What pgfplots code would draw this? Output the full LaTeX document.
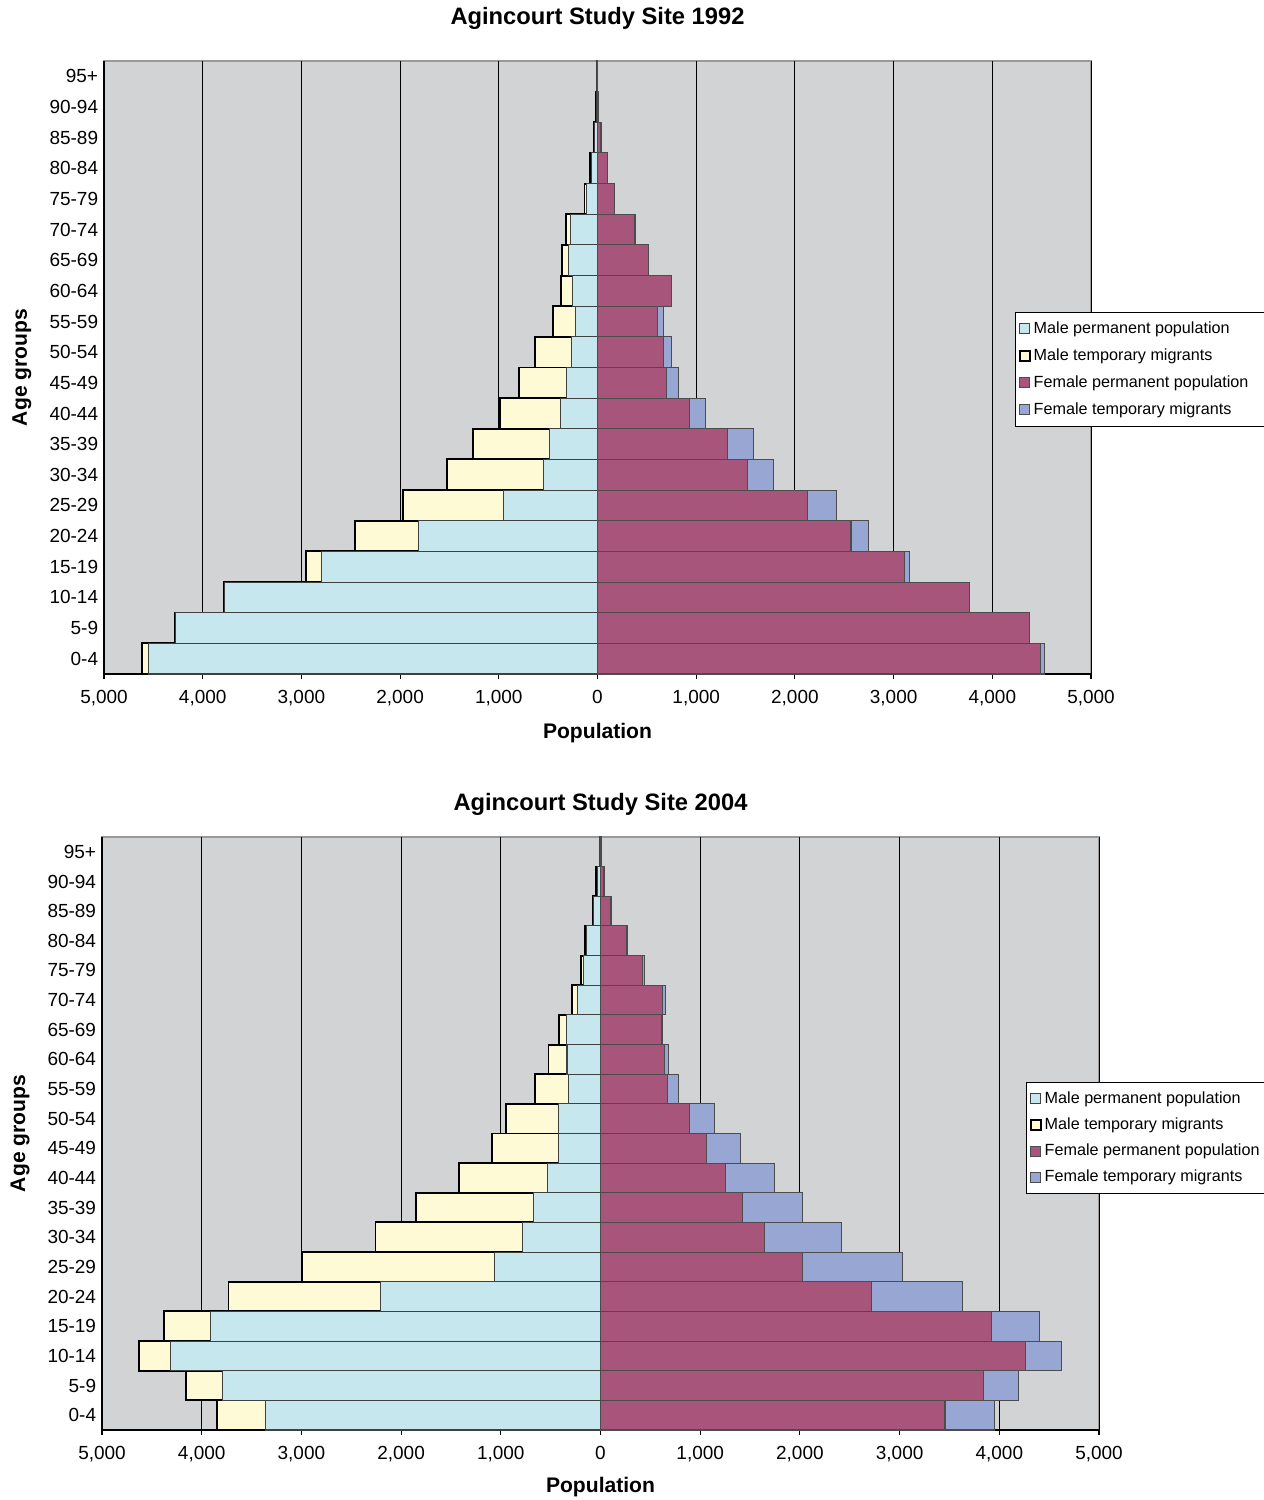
\documentclass[border=0pt]{standalone}
\usepackage{pgfplots}
\pgfplotsset{compat=1.18}
\usepackage{pgfplotstable}
\usepackage{fontspec}
\setmainfont{Liberation Sans}

\definecolor{mperm}{RGB}{198,231,238}
\definecolor{mtemp}{RGB}{255,250,214}
\definecolor{fperm}{RGB}{167,85,122}
\definecolor{ftemp}{RGB}{151,166,211}
\definecolor{bggray}{RGB}{209,211,212}

% y: 0 = 0-4 ... 19 = 95+ ; mp/mt male permanent/temporary, fp/ft female
\pgfplotstableread{
y mp mt fp ft
0 4548 68 4485 43
1 4271 12 4380 0
2 3775 8 3769 0
3 2798 160 3114 43
4 1813 641 2568 174
5 953 1021 2127 292
6 544 981 1520 266
7 488 769 1319 262
8 372 613 930 162
9 316 477 703 122
10 264 368 664 83
11 224 228 611 53
12 256 116 747 0
13 296 60 515 0
14 276 40 380 0
15 116 16 170 0
16 64 8 100 5
17 28 4 35 5
18 12 3 8 0
19 5 1 4 0
}\siteA

\pgfplotstableread{
y mp mt fp ft
0 3364 486 3455 493
1 3794 368 3845 344
2 4312 320 4262 360
3 3909 470 3923 480
4 2202 1529 2721 910
5 1063 1933 2026 1000
6 783 1474 1648 768
7 672 1178 1421 605
8 534 885 1253 494
9 419 672 1064 339
10 419 530 888 254
11 320 340 670 115
12 336 186 644 38
13 344 75 614 8
14 229 56 622 26
15 166 28 421 21
16 142 12 262 4
17 67 4 103 2
18 32 11 34 9
19 8 2 10 2
}\siteB

\pgfplotsset{
  pyramid/.style={
    scale only axis,
    xmin=-5000, xmax=5000,
    ymin=-0.5, ymax=19.5,
    xtick={-5000,-4000,...,5000},
    xticklabels={{5,000},{4,000},{3,000},{2,000},{1,000},0,{1,000},{2,000},{3,000},{4,000},{5,000}},
    ytick={0,...,19},
    yticklabels={0-4,5-9,10-14,15-19,20-24,25-29,30-34,35-39,40-44,45-49,50-54,55-59,60-64,65-69,70-74,75-79,80-84,85-89,90-94,95+},
    axis x line*=bottom, axis y line*=left,
    axis line style={black, line width=0.8pt},
    axis background/.style={fill=bggray, draw=gray!80, line width=0.6pt},
    xmajorgrids, major grid style={black, line width=0.5pt},
    tick align=outside, major tick length=0.1cm,
    xtick style={black, line width=0.6pt},
    ytick style={draw=none},
    tick label style={font=\fontsize{10.8}{12}\selectfont},
    xticklabel style={yshift=-3pt},
    yticklabel style={xshift=3pt},
    label style={font=\bfseries\fontsize{12}{14}\selectfont},
    xlabel={Population}, ylabel={Age groups},
    legend cell align=left,
    legend style={draw=black, line width=0.5pt, anchor=north west,
      font=\fontsize{9.2}{11}\selectfont, row sep=4pt,
      inner xsep=2pt, inner ysep=3.7pt,
      nodes={inner sep=1.6pt}},
    sq/.style={legend image code/.code={\draw[##1] (0cm,-0.1cm) rectangle (0.2cm,0.1cm);}},
    bar width=1,
    clip=false,
  },
  mtot/.style={xbar, bar shift=0pt, fill=mtemp, draw=black, line width=1.1pt, forget plot},
  mper/.style={xbar, bar shift=0pt, fill=mperm, draw=black!75, line width=0.6pt, forget plot},
  ftot/.style={xbar, bar shift=0pt, fill=ftemp, draw=black!70, line width=0.6pt, forget plot},
  fper/.style={xbar, bar shift=0pt, fill=fperm, draw=black!70, line width=0.6pt, forget plot},
}
\tikzset{charttitle/.style={anchor=center, inner sep=0pt, font=\bfseries\fontsize{13.5}{16}\selectfont}}

\begin{document}
\begin{tikzpicture}
\useasboundingbox (0,0) rectangle (25.26cm,-30cm);

\begin{axis}[pyramid,
  at={(2.08cm,-1.22cm)}, anchor=north west,
  width=19.74cm, height=12.26cm,
  xlabel style={at={(axis description cs:0.5,-0.0962)}, anchor=center},
  ylabel style={at={(axis description cs:-0.0831,0.5)}, anchor=center},
  legend style={at={(axis description cs:0.923,0.5905)}},
]
\addlegendimage{sq, fill=mperm, draw=black!75, line width=0.6pt}
\addlegendentry{Male permanent population}
\addlegendimage{sq, fill=mtemp, draw=black, line width=1.1pt}
\addlegendentry{Male temporary migrants}
\addlegendimage{sq, fill=fperm, draw=black!70, line width=0.6pt}
\addlegendentry{Female permanent population\rule{0.6cm}{0pt}}
\addlegendimage{sq, fill=ftemp, draw=black!70, line width=0.6pt}
\addlegendentry{Female temporary migrants}
\addplot[mtot] table[y=y, x expr=-(\thisrow{mp}+\thisrow{mt})] {\siteA};
\addplot[mper] table[y=y, x expr=-\thisrow{mp}] {\siteA};
\addplot[ftot] table[y=y, x expr=\thisrow{fp}+\thisrow{ft}] {\siteA};
\addplot[fper] table[y=y, x=fp] {\siteA};
\node[charttitle] at (axis description cs:0.5,1.069) {Agincourt Study Site 1992};
\end{axis}

\begin{axis}[pyramid,
  at={(2.04cm,-16.74cm)}, anchor=north west,
  width=19.94cm, height=11.86cm,
  xlabel style={at={(axis description cs:0.5,-0.0961)}, anchor=center},
  ylabel style={at={(axis description cs:-0.0822,0.5)}, anchor=center},
  legend style={at={(axis description cs:0.9268,0.5868)}, row sep=3.5pt},
]
\addlegendimage{sq, fill=mperm, draw=black!75, line width=0.6pt}
\addlegendentry{Male permanent population}
\addlegendimage{sq, fill=mtemp, draw=black, line width=1.1pt}
\addlegendentry{Male temporary migrants}
\addlegendimage{sq, fill=fperm, draw=black!70, line width=0.6pt}
\addlegendentry{Female permanent population\rule{0.6cm}{0pt}}
\addlegendimage{sq, fill=ftemp, draw=black!70, line width=0.6pt}
\addlegendentry{Female temporary migrants}
\addplot[mtot] table[y=y, x expr=-(\thisrow{mp}+\thisrow{mt})] {\siteB};
\addplot[mper] table[y=y, x expr=-\thisrow{mp}] {\siteB};
\addplot[ftot] table[y=y, x expr=\thisrow{fp}+\thisrow{ft}] {\siteB};
\addplot[fper] table[y=y, x=fp] {\siteB};
\node[charttitle] at (axis description cs:0.5,1.0556) {Agincourt Study Site 2004};
\end{axis}
\end{tikzpicture}
\end{document}
